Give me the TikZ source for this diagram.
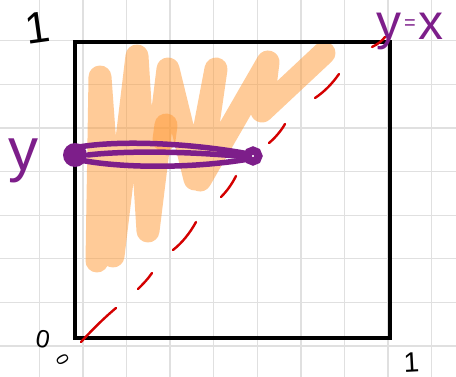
\documentclass[tikz,border=0pt]{standalone}
\usepackage{fontspec}
\setmainfont{Liberation Sans}
\definecolor{gridc}{RGB}{224,224,224}
\definecolor{pur}{RGB}{125,30,138}
\definecolor{redd}{RGB}{212,0,0}
\definecolor{orng}{RGB}{255,153,51}
\tikzset{
  gridline/.style={draw=gridc, line width=1.3pt},
  boxline/.style={draw=black, line width=3.3pt, line join=miter},
  shade/.style={draw=orng, opacity=0.5, line width=23pt, line cap=round, line join=round},
  dashseg/.style={draw=redd, line width=2.4pt, line cap=round},
  lens/.style={draw=pur, line width=5.5pt, line cap=round},
  inklabel/.style={inner sep=0pt, text=black},
  purlabel/.style={inner sep=0pt, text=pur}
}
\begin{document}
\begin{tikzpicture}[x=1pt,y=-1pt]
\useasboundingbox (0,0) rectangle (456,377);
\fill[white] (0,0) rectangle (456,377);
% grid
\foreach \gx in {39.3,82.9,126.5,170.1,213.7,257.3,300.9,344.5,388.1,431.7}
  \draw[gridline] (\gx,0) -- (\gx,377);
\foreach \gy in {40.8,84.4,128,171.6,215.2,258.8,302.4,346}
  \draw[gridline] (0,\gy) -- (456,\gy);
% orange scribble
\draw[shade] (97,261) -- (100,77) -- (113,256) -- (137,56) -- (148,231)
  -- (168,69) -- (195,179) -- (216,69) -- (200,180) -- (268,62)
  -- (262,111) -- (324,53);
\draw[shade] (166,125) -- (164,140);
% unit square
\coordinate (O) at (75,338);
\coordinate (A) at (390,338);
\coordinate (B) at (390,42);
\coordinate (C) at (75,42);
\draw[boxline] (O) -- (A) -- (B) -- (C) -- cycle;
% dashed diagonal y=x
\draw[dashseg] (81,342) .. controls (92,330) and (104,318) .. (116,308);
\draw[dashseg] (138,289) .. controls (143,284) and (148,279) .. (152,273);
\draw[dashseg] (173,250) .. controls (182,243) and (190,233) .. (196,222);
\draw[dashseg] (221,197) .. controls (227,191) and (232,184) .. (236,176);
\draw[dashseg] (269,143) .. controls (275,138) and (281,131) .. (285,124);
\draw[dashseg] (315,98) .. controls (324,92) and (332,84) .. (339,74);
\draw[dashseg] (372,47) .. controls (378,44) and (382,41) .. (385,37);
% purple segment at height y
\coordinate (L) at (75,155);
\coordinate (R) at (253,156);
\draw[lens] (79,147) .. controls (120,140) and (190,143) .. (249,154);
\draw[lens] (88,155) .. controls (130,150) and (200,152) .. (247,157);
\draw[lens] (80,160) .. controls (120,168) and (190,169) .. (249,159);
\fill[pur] (L) circle (12);
\draw[pur, line width=8pt] (R) circle (5.5);
% labels
\node[inklabel, font=\fontsize{44}{44}\selectfont, rotate=8] (one1) at (37.5,27.5) {1};
\node[inklabel, font=\fontsize{28}{28}\selectfont, rotate=3] (one2) at (411.5,362) {1};
\node[inklabel, font=\fontsize{25}{25}\selectfont, rotate=-10] (zero1) at (43,339) {0};
\node[inklabel, font=\fontsize{17}{17}\selectfont, rotate=-60] (zero2) at (62.5,360) {0};
\node[purlabel, font=\fontsize{60}{60}\selectfont, anchor=base] (ylab) at (24,171) {y};
\node[purlabel, anchor=base west] (diag) at (376,40)
  {\fontsize{50}{50}\selectfont y\hspace{3pt}\raisebox{10pt}{\fontsize{20}{20}\selectfont =}\hspace{3pt}x};
\end{tikzpicture}
\end{document}
